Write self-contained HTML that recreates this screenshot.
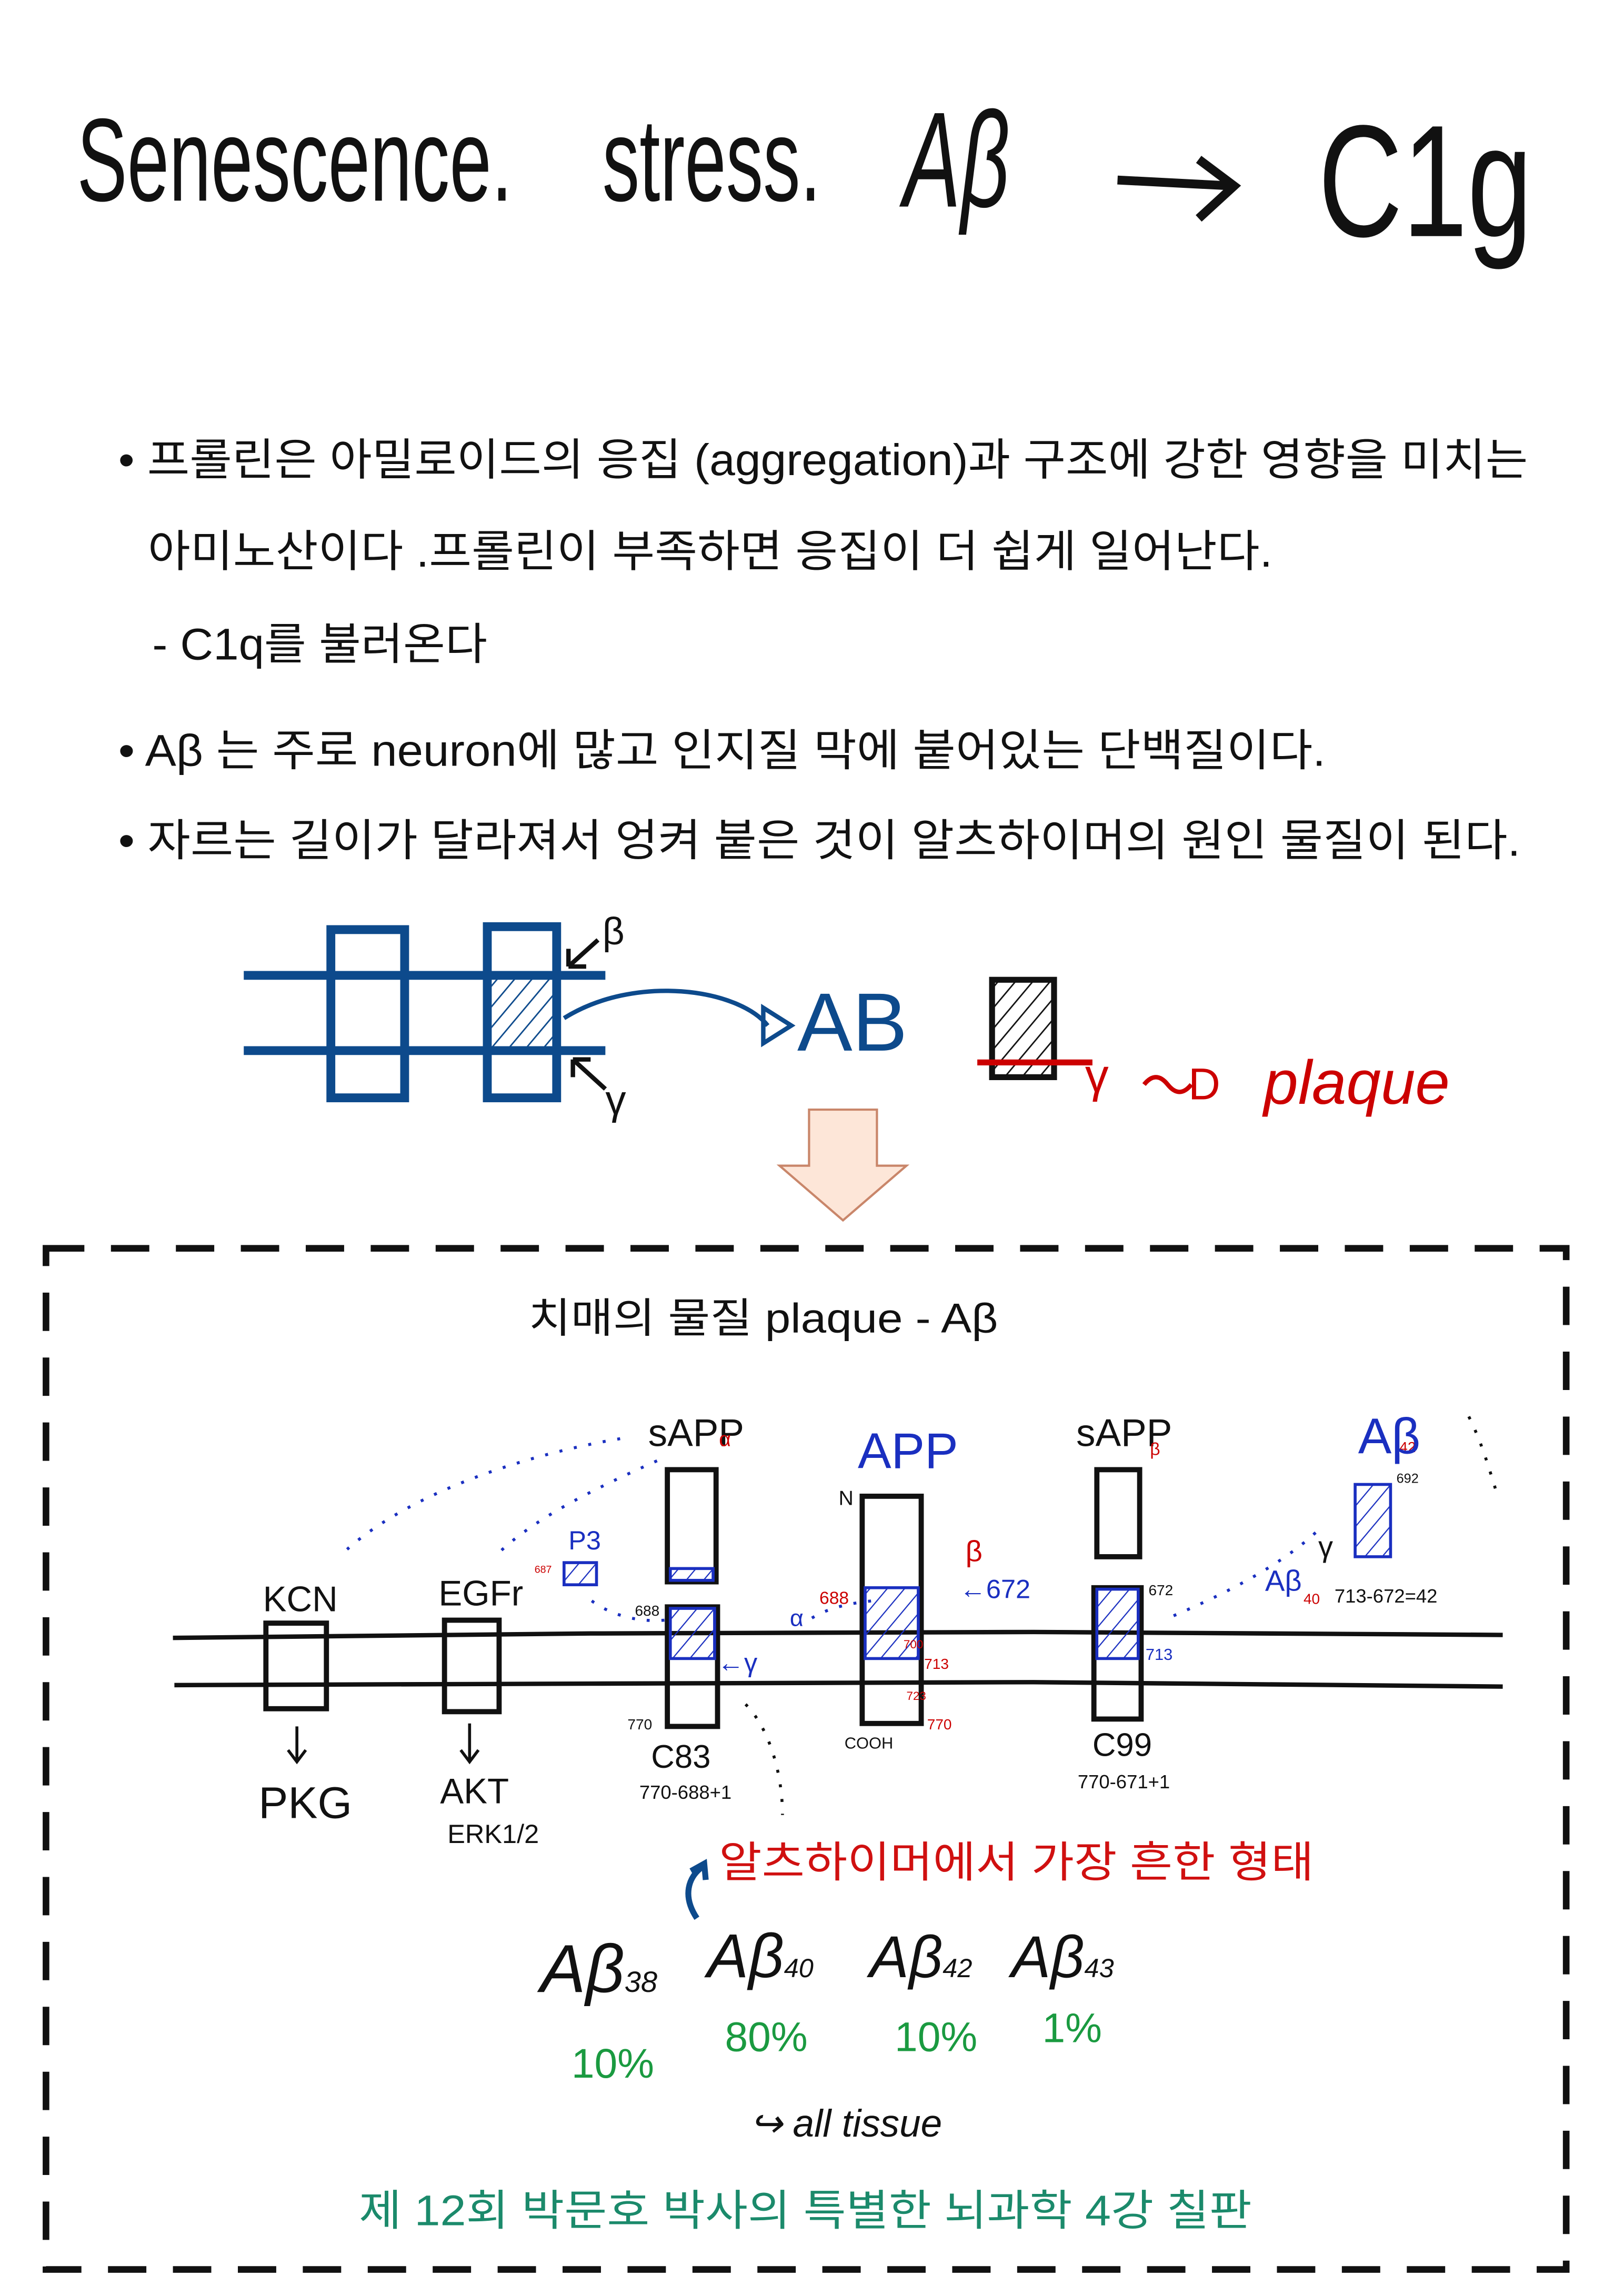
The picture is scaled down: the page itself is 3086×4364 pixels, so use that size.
<!DOCTYPE html>
<html><head><meta charset="utf-8"><style>
html,body{margin:0;padding:0;background:#fff;}
svg{display:block}
.k{font-family:"Liberation Sans","Noto Sans CJK KR",sans-serif;}
.h{font-family:"Liberation Sans Narrow","Liberation Sans",sans-serif;}
</style></head><body>
<svg width="3086" height="4364" viewBox="0 0 1100 1556" xmlns="http://www.w3.org/2000/svg">
<defs>
<pattern id="hb" width="9" height="9" patternUnits="userSpaceOnUse" patternTransform="rotate(40)"><line x1="0" y1="0" x2="0" y2="9" stroke="#1a2fc0" stroke-width="1.6"/></pattern>
<pattern id="hk" width="9" height="9" patternUnits="userSpaceOnUse" patternTransform="rotate(40)"><line x1="0" y1="0" x2="0" y2="9" stroke="#111" stroke-width="2"/></pattern>
<pattern id="hd" width="9" height="9" patternUnits="userSpaceOnUse" patternTransform="rotate(40)"><line x1="0" y1="0" x2="0" y2="9" stroke="#0d4a8c" stroke-width="2"/></pattern>
</defs>
<rect width="1100" height="1556" fill="#fff"/>
<!-- title -->
<text x="52" y="136" class="h" font-size="80" fill="#111" textLength="295" lengthAdjust="spacingAndGlyphs">Senescence.</text>
<text x="408" y="136" class="h" font-size="80" fill="#111" textLength="148" lengthAdjust="spacingAndGlyphs">stress.</text>
<text x="612" y="140" class="h" font-size="92" fill="#111" font-style="italic" textLength="72" lengthAdjust="spacingAndGlyphs">Aβ</text>
<path d="M757 122 L835 126 M812 108 L836 126 L812 148" stroke="#111" stroke-width="6" fill="none"/>
<text x="893" y="160" class="h" font-size="108" fill="#111" textLength="145" lengthAdjust="spacingAndGlyphs">C1g</text>
<!-- bullets -->
<g class="k" font-size="30" fill="#111">
<text x="80" y="322" textLength="955" lengthAdjust="spacingAndGlyphs">• 프롤린은 아밀로이드의 응집 (aggregation)과 구조에 강한 영향을 미치는</text>
<text x="100" y="384" textLength="762" lengthAdjust="spacingAndGlyphs">아미노산이다 .프롤린이 부족하면 응집이 더 쉽게 일어난다.</text>
<text x="103" y="447" textLength="227" lengthAdjust="spacingAndGlyphs">- C1q를 불러온다</text>
<text x="80" y="519" textLength="818" lengthAdjust="spacingAndGlyphs">•  Aβ 는 주로 neuron에 많고 인지질 막에 붙어있는 단백질이다.</text>
<text x="80" y="580" textLength="950" lengthAdjust="spacingAndGlyphs">• 자르는 길이가 달라져서 엉켜 붙은 것이 알츠하이머의 원인 물질이 된다.</text>
</g>
<!-- blue diagram -->
<g stroke="#0d4a8c" stroke-width="6" fill="none">
<line x1="165" y1="661" x2="410" y2="661"/>
<line x1="165" y1="712" x2="410" y2="712"/>
<rect x="224" y="630" width="50" height="114"/>
<rect x="330" y="628" width="47" height="116"/>
<path d="M382 690 C430 660 500 670 520 695" stroke-width="3"/>
<path d="M517 683 L536 695 L517 707 Z" stroke-width="3"/>
<path d="M385 655 L405 637 M385 655 L385 643 M385 655 L397 655" stroke="#111" stroke-width="3"/>
<path d="M388 718 L410 738 M388 718 L388 730 M388 718 L400 718" stroke="#111" stroke-width="3"/>
</g>
<rect x="333" y="663" width="42" height="47" fill="url(#hd)"/>
<text x="408" y="640" class="h" font-size="26" fill="#111">β</text>
<text x="410" y="755" class="h" font-size="28" fill="#111">γ</text>
<text x="540" y="712" class="h" font-size="56" fill="#0d4a8c">AB</text>
<rect x="672" y="664" width="42" height="66" fill="url(#hk)" stroke="#111" stroke-width="4"/>
<line x1="662" y1="720" x2="740" y2="720" stroke="#c00" stroke-width="4"/>
<text x="735" y="740" class="h" font-size="32" fill="#c00">γ</text>
<path d="M775 735 q8 -10 16 0 q8 10 16 0" stroke="#c00" stroke-width="3" fill="none"/>
<text x="805" y="745" class="h" font-size="30" fill="#c00">D</text>
<text x="856" y="748" class="h" font-size="42" fill="#c00" font-style="italic">plaque</text>
<!-- big arrow -->
<path d="M556 752 L594 752 L594 790 L614 790 L571 827 L528 790 L548 790 L548 752 Z" fill="#fde6d8" stroke="#c9866a" stroke-width="1.5"/>
<!-- dashed box -->
<rect x="31" y="846" width="1030" height="692" fill="none" stroke="#111" stroke-width="4.5" stroke-dasharray="26 18"/>
<text x="358" y="903" class="k" font-size="28" fill="#111" textLength="318" lengthAdjust="spacingAndGlyphs">치매의 물질 plaque - Aβ</text>
<!-- membrane -->
<g stroke="#111" stroke-width="3" fill="none">
<path d="M117 1110 L400 1107 L700 1106 L1018 1108"/>
<path d="M118 1142 L400 1141 L700 1140 L1018 1143"/>
<g stroke-width="3.5">
<rect x="180" y="1100" width="41" height="58"/>
<rect x="301" y="1098" width="37" height="62"/>
<rect x="452" y="996" width="33" height="76"/>
<rect x="452" y="1089" width="34" height="81"/>
<rect x="584" y="1014" width="40" height="154"/>
<rect x="743" y="996" width="29" height="59"/>
<rect x="741" y="1076" width="32" height="89"/>
</g>
<path d="M201 1170 L201 1193 M195 1186 L201 1194 L207 1186" stroke-width="2"/>
<path d="M318 1168 L318 1193 M312 1186 L318 1194 L324 1186" stroke-width="2"/>
</g>
<rect x="454" y="1063" width="29" height="8" fill="url(#hb)" stroke="#1a2fc0" stroke-width="2"/>
<rect x="454" y="1090" width="30" height="34" fill="url(#hb)" stroke="#1a2fc0" stroke-width="2"/>
<rect x="586" y="1076" width="36" height="48" fill="url(#hb)" stroke="#1a2fc0" stroke-width="2"/>
<rect x="743" y="1077" width="28" height="47" fill="url(#hb)" stroke="#1a2fc0" stroke-width="2"/>
<rect x="918" y="1006" width="24" height="49" fill="url(#hb)" stroke="#1a2fc0" stroke-width="2"/>
<rect x="382" y="1059" width="22" height="15" fill="url(#hb)" stroke="#1a2fc0" stroke-width="2"/>
<g fill="none" stroke="#1a2fc0" stroke-width="2" stroke-dasharray="2 8">
<path d="M420 975 C360 985 280 1010 235 1050"/>
<path d="M445 990 C400 1010 360 1030 335 1055"/>
<path d="M450 1098 C425 1100 405 1090 395 1080"/>
<path d="M590 1085 C570 1087 555 1092 545 1100"/>
<path d="M795 1095 C830 1080 870 1060 895 1035"/>
</g>
<g fill="none" stroke="#111" stroke-width="2" stroke-dasharray="2 8">
<path d="M505 1155 C520 1170 530 1200 530 1230"/>
<path d="M995 960 C1005 980 1010 1000 1015 1015"/>
</g>
<g class="h" fill="#111">
<text x="178" y="1092" font-size="24">KCN</text>
<text x="297" y="1088" font-size="24">EGFr</text>
<text x="175" y="1232" font-size="30">PKG</text>
<text x="298" y="1222" font-size="24">AKT</text>
<text x="303" y="1249" font-size="18">ERK1/2</text>
<text x="439" y="980" font-size="26">sAPP</text>
<text x="729" y="980" font-size="26">sAPP</text>
<text x="441" y="1198" font-size="22">C83</text>
<text x="433" y="1219" font-size="13">770-688+1</text>
<text x="740" y="1190" font-size="22">C99</text>
<text x="730" y="1212" font-size="13">770-671+1</text>
<text x="568" y="1020" font-size="14">N</text>
<text x="572" y="1185" font-size="11">COOH</text>
<text x="430" y="1095" font-size="10">688</text>
<text x="425" y="1172" font-size="10">770</text>
<text x="778" y="1081" font-size="10">672</text>
<text x="946" y="1005" font-size="9">692</text>
<text x="904" y="1086" font-size="13">713-672=42</text>
<text x="893" y="1055" font-size="20">γ</text>
</g>
<g class="h" fill="#c00">
<text x="487" y="980" font-size="14">α</text>
<text x="779" y="986" font-size="12">β</text>
<text x="654" y="1058" font-size="20">β</text>
<text x="555" y="1087" font-size="12">688</text>
<text x="626" y="1131" font-size="10">713</text>
<text x="628" y="1172" font-size="10">770</text>
<text x="612" y="1117" font-size="8">700</text>
<text x="614" y="1152" font-size="8">723</text>
<text x="948" y="984" font-size="10">42</text>
<text x="883" y="1087" font-size="10">40</text>
<text x="362" y="1066" font-size="7">687</text>
</g>
<g class="h" fill="#1a2fc0">
<text x="385" y="1050" font-size="18">P3</text>
<text x="581" y="995" font-size="34">APP</text>
<text x="920" y="985" font-size="34">Aβ</text>
<text x="857" y="1078" font-size="20">Aβ</text>
<text x="650" y="1083" font-size="18">←672</text>
<text x="486" y="1133" font-size="18">←γ</text>
<text x="535" y="1102" font-size="16">α</text>
<text x="776" y="1125" font-size="11">713</text>
</g>
<text x="487" y="1272" class="k" font-size="29" fill="#d01010" textLength="403" lengthAdjust="spacingAndGlyphs">알츠하이머에서 가장 흔한 형태</text>
<path d="M472 1300 C462 1285 466 1272 476 1265 M468 1268 L477 1263 L478 1274" stroke="#0d4a8c" stroke-width="4" fill="none"/>
<g class="h" fill="#111" font-style="italic">
<text x="366" y="1350" font-size="46">Aβ<tspan font-size="20">38</tspan></text>
<text x="479" y="1340" font-size="42">Aβ<tspan font-size="18">40</tspan></text>
<text x="589" y="1340" font-size="40">Aβ<tspan font-size="18">42</tspan></text>
<text x="685" y="1340" font-size="40">Aβ<tspan font-size="18">43</tspan></text>
</g>
<g class="h" fill="#1a9a40" font-size="28">
<text x="387" y="1408">10%</text>
<text x="491" y="1390">80%</text>
<text x="606" y="1390">10%</text>
<text x="706" y="1384">1%</text>
</g>
<text x="508" y="1448" class="h" font-size="26" fill="#111" font-style="italic">↪ all tissue</text>
<text x="243" y="1508" class="k" font-size="29" fill="#1b8a6b" textLength="605" lengthAdjust="spacingAndGlyphs">제 12회 박문호 박사의 특별한 뇌과학 4강 칠판</text>
</svg>
</body></html>
